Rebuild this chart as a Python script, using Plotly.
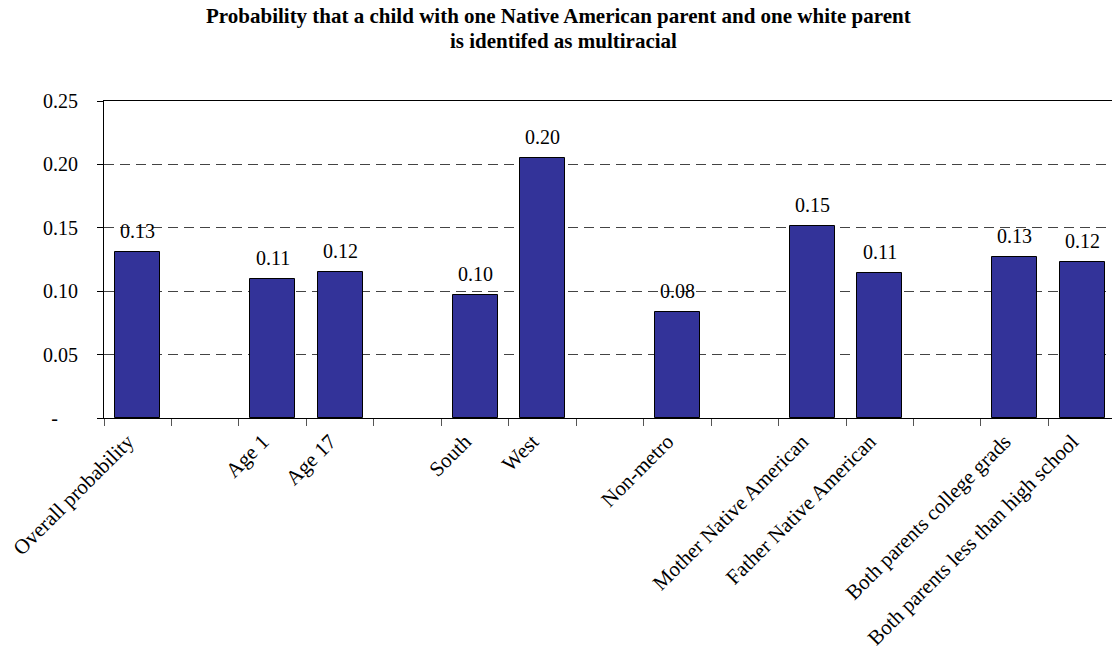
import plotly.graph_objects as go

# Category slots; empty strings are spacer slots between groups
categories = [
    "Overall probability", "",
    "Age 1", "Age 17", "",
    "South", "West", "",
    "Non-metro", "",
    "Mother Native American", "Father Native American", "",
    "Both parents college grads", "Both parents less than high school",
]
probabilities = [
    0.131, None,
    0.1096, 0.1155, None,
    0.097, 0.2048, None,
    0.0836, None,
    0.1517, 0.1141, None,
    0.1272, 0.1233,
]
y_tickvals = [0, 0.05, 0.10, 0.15, 0.20, 0.25]
y_ticktext = ["-\u00a0\u00a0\u00a0\u00a0", "0.05", "0.10", "0.15", "0.20", "0.25"]
title_lines = [
    "Probability that a child with one Native American parent and one white parent",
    "is identifed as multiracial",
]

FONT = "Liberation Serif, Times New Roman, serif"
BAR_COLOR = "#333399"

slots = list(range(len(categories)))
bar_x = [i for i, v in zip(slots, probabilities) if v is not None]
bar_y = [v for v in probabilities if v is not None]
label_x = [i for i, c in zip(slots, categories) if c]
label_text = [c for c in categories if c]

fig = go.Figure()
fig.add_trace(go.Bar(
    x=bar_x, y=bar_y, width=0.667,
    marker=dict(color=BAR_COLOR, line=dict(color="black", width=1)),
    hoverinfo="x+y", showlegend=False,
))

# value labels above each bar
for x, v in zip(bar_x, bar_y):
    fig.add_annotation(
        x=x, y=v, text=f"{v:.2f}", showarrow=False,
        yanchor="bottom", yshift=8,
        font=dict(family=FONT, size=20, color="black"),
    )

# two-line bold heading above the plot area
for text, ypos, xpos in [(title_lines[0], 1.268, 0.4509), (title_lines[1], 1.189, 0.4554)]:
    fig.add_annotation(
        x=xpos, y=ypos, xref="paper", yref="paper",
        text=f"<b>{text}</b>", showarrow=False,
        xanchor="center", yanchor="middle",
        font=dict(family=FONT, size=21, color="black"),
    )

fig.update_layout(
    width=1112, height=663, autosize=False,
    margin=dict(l=104, r=0, t=101, b=245),
    paper_bgcolor="white", plot_bgcolor="white",
    font=dict(family=FONT, size=20, color="black"),
    bargap=0,
)

fig.update_xaxes(
    range=[-0.5, 14.442],
    tickmode="array", tickvals=label_x, ticktext=label_text,
    tickangle=-45, ticks="", ticklabelstandoff=2, ticklabelshift=-10,
    tickfont=dict(family=FONT, size=21, color="black"),
    showline=True, linecolor="black", linewidth=1, mirror=True,
    showgrid=False, zeroline=False,
    minor=dict(
        tickmode="array",
        tickvals=[i - 0.5 for i in range(len(categories) + 1)],
        ticks="outside", ticklen=7, tickcolor="#555", tickwidth=1,
        showgrid=False,
    ),
)

fig.update_yaxes(
    range=[0, 0.25],
    tickmode="array", tickvals=y_tickvals, ticktext=y_ticktext,
    ticks="outside", ticklen=6, tickcolor="black",
    ticklabelstandoff=15,
    tickfont=dict(family=FONT, size=20, color="black"),
    showline=True, linecolor="black", linewidth=1,
    showgrid=True, gridcolor="#444", griddash="10px,6px", gridwidth=1,
    zeroline=False,
)

fig.write_html("out.html")
